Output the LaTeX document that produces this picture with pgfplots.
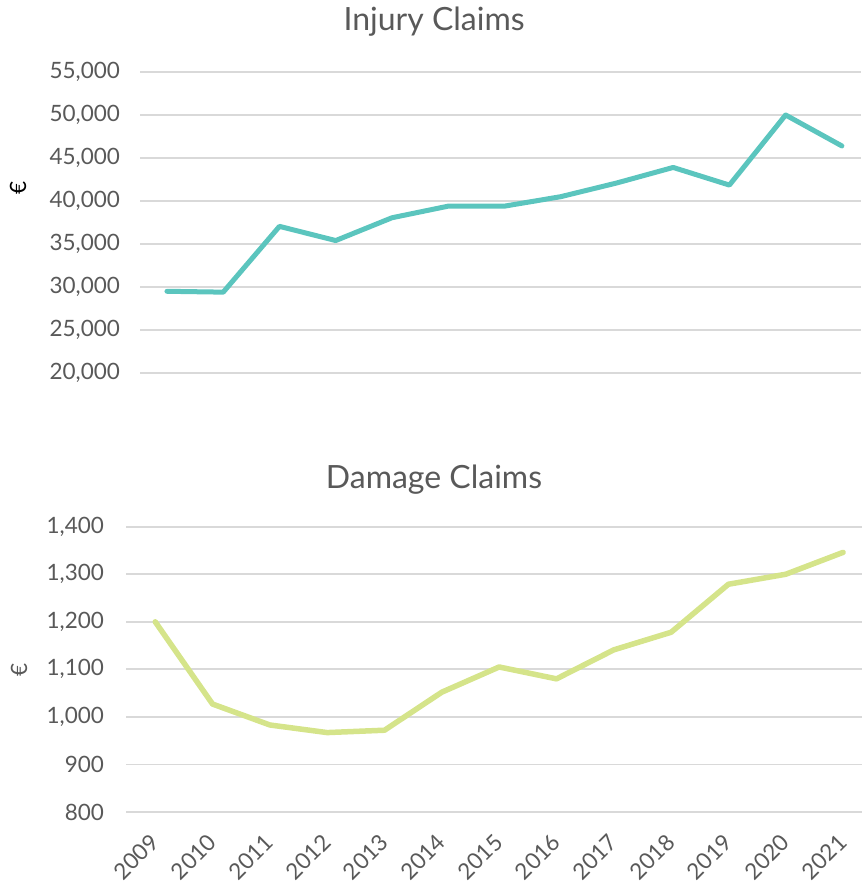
\documentclass[border=0pt]{standalone}
\usepackage{pgfplots}
\pgfplotsset{compat=1.18}
\usepackage{fontspec}
\setmainfont{Lato}
\definecolor{teal1}{HTML}{5BC5BE}
\definecolor{green1}{HTML}{D5E48A}
\definecolor{grid1}{HTML}{D9D9D9}
\definecolor{txt}{HTML}{595959}

\pgfplotsset{myaxis/.style={
  scale only axis,
  axis line style={draw=none},
  ymajorgrids,
  scaled y ticks=false,
  scaled x ticks=false,
  major grid style={grid1, line width=1.8pt},
  major tick length=0pt,
  tick label style={font=\fontsize{22.5}{27}\selectfont, text=txt},
  clip=false,
  title style={font=\fontsize{32}{38}\selectfont, text=txt, anchor=base, yshift=0pt},
  ylabel style={font=\fontsize{22.5}{27}\selectfont, anchor=center},
}}

\begin{document}
\begin{tikzpicture}
\useasboundingbox (0pt,0pt) rectangle (861pt,885pt);

\begin{axis}[myaxis,
  at={(140pt,512pt)}, anchor=south west,
  width=721pt, height=301pt,
  xmin=2008.52, xmax=2021.34,
  ymin=20000, ymax=55000,
  ytick={20000,25000,30000,35000,40000,45000,50000,55000},
  yticklabels={{20,000},{25,000},{30,000},{35,000},{40,000},{45,000},{50,000},{55,000}},
  yticklabel style={anchor=east, xshift=-16.5pt},
  xtick=\empty,
  title={Injury Claims},
  title style={at={(axis description cs:0.408,1.118)}},
  ylabel={€},
  ylabel style={at={(axis description cs:-0.1692,0.615)}, text=black},
]
\addplot[teal1, line width=5pt, line join=round, line cap=round] coordinates {
(2009,29500) (2010,29400) (2011,37050) (2012,35400) (2013,38050) (2014,39400) (2015,39400)
(2016,40500) (2017,42100) (2018,43900) (2019,41850) (2020,50000) (2021,46400)
};
\end{axis}

\begin{axis}[myaxis,
  at={(126pt,73pt)}, anchor=south west,
  width=736pt, height=285.3pt,
  xmin=2008.49, xmax=2021.33,
  ymin=800, ymax=1400,
  ytick={800,900,1000,1100,1200,1300,1400},
  yticklabels={800,900,{1,000},{1,100},{1,200},{1,300},{1,400}},
  yticklabel style={anchor=east, xshift=-18.5pt},
  xtick={2009,2010,2011,2012,2013,2014,2015,2016,2017,2018,2019,2020,2021},
  xticklabels={2009,2010,2011,2012,2013,2014,2015,2016,2017,2018,2019,2020,2021},
  xticklabel style={xshift=2pt, yshift=-24pt, rotate=45, anchor=east},
  title={Damage Claims},
  title style={at={(axis description cs:0.4185,1.1112)}},
  ylabel={€},
  ylabel style={at={(axis description cs:-0.1454,0.498)}, text=txt},
]
\addplot[green1, line width=5.5pt, line join=round, line cap=round] coordinates {
(2009,1200) (2010,1027) (2011,983) (2012,967) (2013,972) (2014,1052) (2015,1105)
(2016,1080) (2017,1141) (2018,1178) (2019,1279) (2020,1300) (2021,1346)
};
\end{axis}
\end{tikzpicture}
\end{document}
